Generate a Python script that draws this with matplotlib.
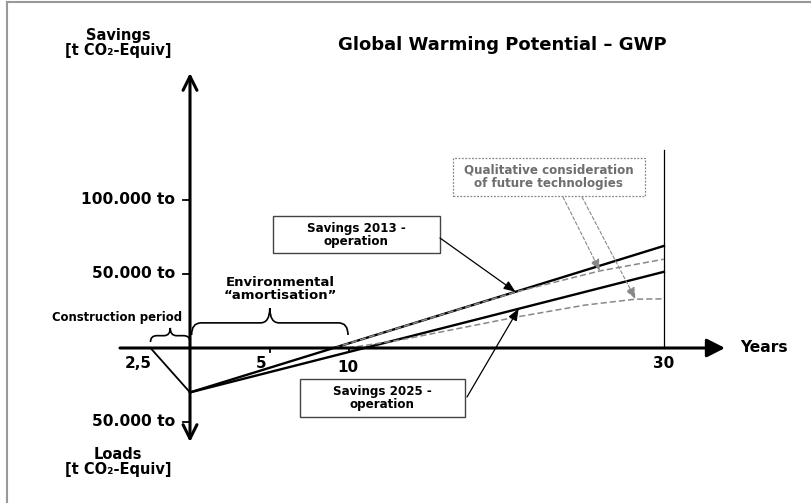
import numpy as np
import matplotlib.pyplot as plt
from matplotlib.path import Path
from matplotlib.patches import PathPatch, Rectangle
from matplotlib.lines import Line2D

plt.rcParams['font.family'] = ['DejaVu Sans']
plt.rcParams['font.weight'] = 'bold'

# years (negative = construction period before operation)
construction_start = -2.5
amortisation_end = 10
lifetime = 30
year_ticks = [-2.5, 5, 10, 30]
year_labels = ["2,5", "5", "10", "30"]

# thousand t CO2-equiv (positive = savings, negative = loads)
load_ticks = [100, 50, -50]
load_labels = ["100.000 to", "50.000 to", "50.000 to"]
construction_load = -30

# solid lines: savings from operation
op_years = [0, 30]
savings_2013 = [-30, 69]
savings_2025 = [-30, 51.5]

# dashed lines: qualitative consideration of future technologies
future_2013_years = [9.1, 15, 20.6, 25.9, 30]
future_2013 = [0, 19.5, 37.8, 52, 60]
future_2025_years = [10, 13.3, 20.7, 25, 28.2, 30]
future_2025 = [0, 5.4, 21, 29, 33, 33.2]

# pixel -> data helper for placing labels
X0, Y0, SX, SY = 190, 348, 15.8, 1.48


def P(x, y):
    return (x - X0) / SX, (Y0 - y) / SY


def brace(ax, x0, x1, yb, h, r, frac=0.45):
    ym = yb + h * frac
    xm = (x0 + x1) / 2
    verts = [(x0, yb), (x0, ym), (x0 + r, ym), (xm - r, ym), (xm, ym), (xm, yb + h),
             (xm, ym), (xm + r, ym), (x1 - r, ym), (x1, ym), (x1, yb)]
    codes = [Path.MOVETO, Path.CURVE3, Path.CURVE3, Path.LINETO, Path.CURVE3, Path.CURVE3,
             Path.CURVE3, Path.CURVE3, Path.LINETO, Path.CURVE3, Path.CURVE3]
    ax.add_patch(PathPatch(Path(verts, codes), fill=False, lw=1.2, color="k"))


def box(ax, x0, y0, x1, y1, **kw):
    (a, b), (c, d) = P(x0, y1), P(x1, y0)
    ax.add_patch(Rectangle((a, b), c - a, d - b, fill=False, **kw))


fig = plt.figure(figsize=(8.11, 5.03), dpi=100)
ax = fig.add_axes([0, 0, 1, 1])
ax.set_xlim(P(0, 0)[0], P(811, 0)[0])
ax.set_ylim(P(0, 503)[1], P(0, 0)[1])
ax.axis("off")

# frame
fig.add_artist(Line2D([7 / 811, 1], [1 - 2 / 503] * 2, transform=fig.transFigure, color="#999", lw=1.5))
fig.add_artist(Line2D([7 / 811] * 2, [0, 1 - 2 / 503], transform=fig.transFigure, color="#999", lw=1.5))

# axes with arrows
ax.annotate("", xy=(P(725, 0)[0], 0), xytext=(P(120, 0)[0], 0),
            arrowprops=dict(arrowstyle="-|>, head_length=0.55, head_width=0.28", lw=2.2,
                            color="k", mutation_scale=20, shrinkA=0, shrinkB=0))
ax.annotate("", xy=(0, P(0, 73)[1]), xytext=(0, P(0, 442)[1]),
            arrowprops=dict(arrowstyle="<->, head_length=0.5, head_width=0.25", lw=2.2,
                            color="k", mutation_scale=20, shrinkA=0, shrinkB=0))

# y ticks
for v, lab in zip(load_ticks, load_labels):
    ax.plot([-0.45, 0], [v, v], color="k", lw=1.3)
    ax.text(-0.95, v, lab, ha="right", va="center", fontsize=11.2)

# x ticks
offsets = {-2.5: (-12, -15), 5: (-8, -15), 10: (0, -20), 30: (0, -15)}
for t, lab in zip(year_ticks, year_labels):
    if t in (5, 10):
        ax.plot([t + 0.05, t + 0.05], [0, -3], color="k", lw=1.3)
    ax.annotate(lab, (t, 0), xytext=offsets[t], textcoords="offset pixels",
                ha="center", va="center", fontsize=11)

# lifetime vertical line
ax.plot([lifetime, lifetime], [0, P(0, 150)[1]], color="k", lw=0.9)

# construction triangle
ax.plot([construction_start, 0], [0, construction_load], color="k", lw=1.3)

# operation savings
ax.plot(op_years, savings_2013, color="k", lw=1.7)
ax.plot(op_years, savings_2025, color="k", lw=1.7)
ax.plot(future_2013_years, future_2013, color="#888", lw=1.1, dashes=(4, 2))
ax.plot(future_2025_years, future_2025, color="#888", lw=1.1, dashes=(4, 2))

# braces
brace(ax, construction_start, 0, P(0, 342)[1], 9.5, 0.4)
brace(ax, 0.1, amortisation_end, P(0, 335)[1], 18.2, 0.6)
ax.text(*P(117, 318), "Construction period", ha="center", va="center", fontsize=8.4)
ax.text(*P(280, 289), "Environmental\n\u201camortisation\u201d", ha="center", va="center",
        fontsize=9.5, linespacing=1.05)

# axis titles
ax.text(*P(118, 43), "Savings\n[t CO\u2082-Equiv]", ha="center", va="center", fontsize=10.5,
        linespacing=1.0)
ax.text(*P(118, 462), "Loads\n[t CO\u2082-Equiv]", ha="center", va="center", fontsize=10.5,
        linespacing=1.0)
ax.text(*P(740, 348), "Years", ha="left", va="center", fontsize=11.2)
ax.text(*P(502, 45), "Global Warming Potential \u2013 GWP", ha="center", va="center", fontsize=13)

# labelled boxes with arrows
arrow_kw = dict(arrowstyle="-|>, head_length=0.5, head_width=0.2", lw=0.9, color="k",
                mutation_scale=14, shrinkA=0, shrinkB=0)
box(ax, 273, 216, 440, 253, ec="#444", lw=1.0)
ax.text(*P(356, 235), "Savings 2013 -\noperation", ha="center", va="center", fontsize=8.6,
        linespacing=1.05)
y13 = 20.6
ax.annotate("", xy=(y13, np.interp(y13, op_years, savings_2013)), xytext=P(440, 238),
            arrowprops=arrow_kw)

box(ax, 300, 379, 465, 417, ec="#444", lw=1.0)
ax.text(*P(382, 398), "Savings 2025 -\noperation", ha="center", va="center", fontsize=8.6,
        linespacing=1.05)
y25 = 20.8
ax.annotate("", xy=(y25, np.interp(y25, op_years, savings_2025)), xytext=P(467, 397),
            arrowprops=arrow_kw)

box(ax, 453, 158, 645, 196, ec="#888", lw=0.9, ls=(0, (1.5, 1.2)))
ax.text(*P(549, 177), "Qualitative consideration\nof future technologies", ha="center",
        va="center", fontsize=8.6, color="#6e6e6e", linespacing=1.1)
dash_kw = dict(arrowstyle="-|>, head_length=0.5, head_width=0.2", lw=0.8, color="#888",
               ls=(0, (3, 2)), mutation_scale=14, shrinkA=0, shrinkB=0)
q1, q2 = 25.95, 28.2
ax.annotate("", xy=(q1, np.interp(q1, future_2013_years, future_2013)), xytext=P(563, 197),
            arrowprops=dash_kw)
ax.annotate("", xy=(q2, np.interp(q2, future_2025_years, future_2025)), xytext=P(582, 197),
            arrowprops=dash_kw)

fig.savefig("out.png", dpi=100)
